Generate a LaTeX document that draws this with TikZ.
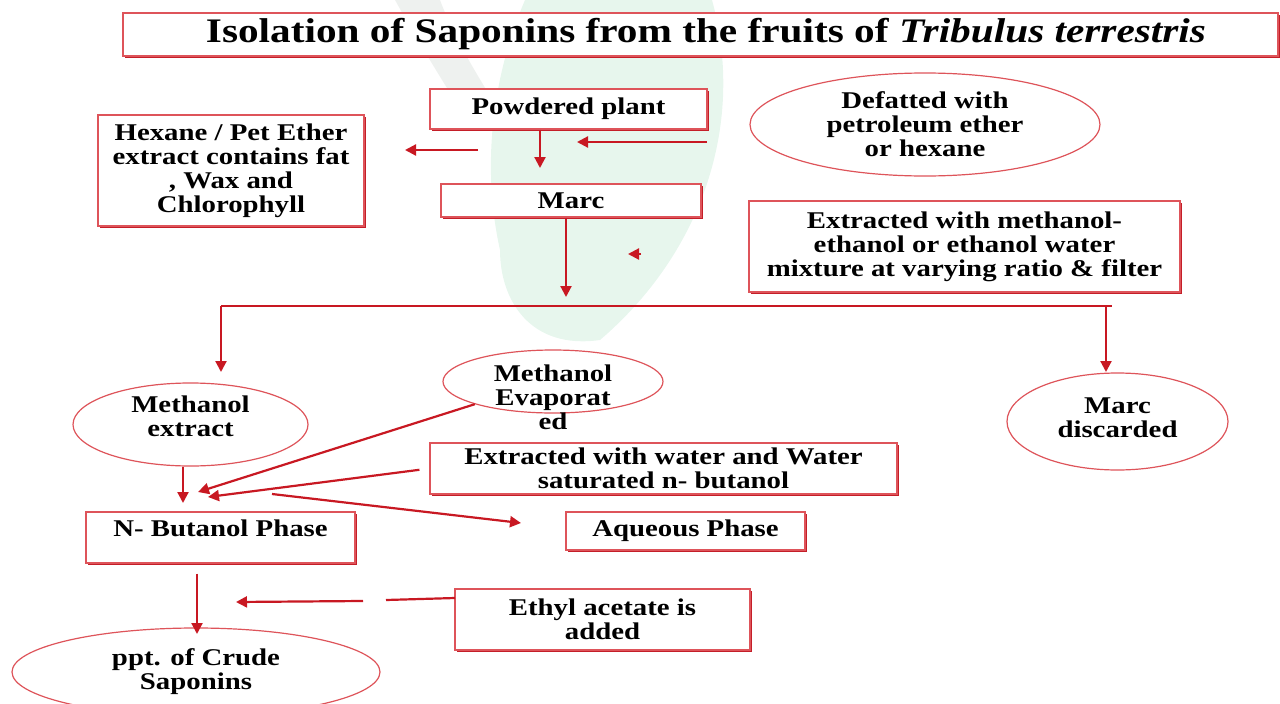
\documentclass[tikz,border=0pt]{standalone}
\usepackage{fontspec}
\setmainfont{Liberation Serif}[FakeStretch=1.2]
\usetikzlibrary{arrows.meta,shapes.geometric,shadows}
\definecolor{flowred}{RGB}{200,24,34}
\definecolor{boxred}{RGB}{222,84,90}
\definecolor{shadered}{RGB}{196,30,40}
\definecolor{leafgreen}{RGB}{231,246,237}
\definecolor{leafgray}{RGB}{238,241,239}
\begin{document}
\begin{tikzpicture}[x=1pt,y=-1pt,
    txt/.style={align=center, inner sep=0pt, font=\fontsize{24}{24}\selectfont\bfseries},
    box/.style={txt, draw=boxred, line width=1.3pt, fill=white,
        drop shadow={shadow xshift=1.6pt, shadow yshift=-1.6pt, fill=shadered, opacity=1}},
    oval/.style={ellipse, draw=boxred, line width=1.2pt, fill=white, inner sep=0pt},
    line/.style={draw=flowred, line width=2.2pt},
    flow/.style={line, -{Triangle[length=11pt,width=11pt]}}
]
            \path[use as bounding box, clip] (0,0) rectangle (1280,704);
            \fill[leafgray] (395,0) .. controls (420,45) and (445,85) .. (470,125) -- (505,120) .. controls (480,80) and (455,40) .. (440,0) -- cycle;
            \fill[leafgreen] (525,0) -- (712,0) .. controls (745,120) and (705,250) .. (600,340)
                .. controls (530,350) and (500,300) .. (500,250) .. controls (480,160) and (495,70) .. (525,0) -- cycle;

            \node[box, font=\fontsize{34.4}{34}\selectfont\bfseries, minimum width=1155, minimum height=43] (title) at (700.5,34.5)
                {\hspace*{11pt}Isolation of Saponins from the fruits of \textit{Tribulus terrestris}};
            \node[box, minimum width=277, minimum height=40] (plant) at (568.5,109) {Powdered plant};
            \node[box, minimum width=266, minimum height=111] (hexane) at (231,170.5)
                {Hexane / Pet Ether\\extract contains fat\\, Wax and\\Chlorophyll};
            \node[box, minimum width=260, minimum height=33] (marc) at (571,200.5) {Marc};
            \node[oval, minimum width=350, minimum height=103] (defat) at (925,124.5) {};
            \node[txt] (defatT) at (defat.center) {Defatted with\\petroleum ether\\or hexane};
            \node[box, minimum width=431, minimum height=91] (extract) at (964.5,246.5)
                {Extracted with methanol-\\ethanol or ethanol water\\mixture at varying ratio \& filter};

            \node[oval, minimum width=235, minimum height=83] (mext) at (190.5,424.5) {};
            \node[txt] (mextT) at ([yshift=8pt]mext.center) {Methanol\\extract};
            \node[oval, minimum width=220, minimum height=63] (mevap) at (553,381.5) {};
            \node[txt] (mevapT) at ([yshift=-16pt]mevap.center) {Methanol\\Evaporat\\ed};
            \node[oval, minimum width=221, minimum height=97] (mdisc) at (1117.5,421.5) {};
            \node[txt] (mdiscT) at ([yshift=4pt]mdisc.center) {Marc\\discarded};
            \node[box, minimum width=467, minimum height=51] (water) at (663.5,468.5)
                {Extracted with water and Water\\saturated n- butanol};
            \node[box, text depth=18pt, minimum width=269, minimum height=51] (nbut) at (220.5,537.5) {N- Butanol Phase};
            \node[box, minimum width=239, minimum height=38] (aq) at (685.5,531) {Aqueous Phase};
            \node[box, minimum width=295, minimum height=61] (ethyl) at (602.5,619.5) {Ethyl acetate is\\added};
            \node[oval, minimum width=368, minimum height=88] (ppt) at (196,672) {};
            \node[txt] (pptT) at (ppt.center) {ppt. of Crude\\Saponins};

            \coordinate (p1) at (540,168);
            \coordinate (d0) at (707,142);
            \coordinate (d1) at (577,142);
            \coordinate (h0) at (478,150);
            \coordinate (h1) at (405,150);
            \coordinate (s0) at (641,254);
            \coordinate (s1) at (628,254);
            \coordinate (m1) at (566,297);
            \coordinate (sl) at (221,306);
            \coordinate (sr) at (1112,306);
            \coordinate (ml) at (221,372);
            \coordinate (mr) at (1106,372);
            \coordinate (b1) at (183,503);
            \coordinate (b2) at (198,492);
            \coordinate (b3) at (208,497);
            \coordinate (q0) at (272,494);
            \coordinate (q1) at (521,523);
            \coordinate (n1) at (197,634);
            \coordinate (e0) at (455,598);
            \coordinate (e1) at (386,600);
            \coordinate (e2) at (363,601);
            \coordinate (e3) at (236,602);

            \draw[flow] (plant.south -| p1) -- (p1);
            \draw[flow] (d0) -- (d1);
            \draw[flow] (h0) -- (h1);
            \draw[flow] (s0) -- (s1);
            \draw[flow] (marc.south -| m1) -- (m1);
            \draw[line] (sl) -- (sr);
            \draw[flow] (sl) -- (ml);
            \draw[flow] (sr -| mr) -- (mr);
            \draw[flow] (mext.south -| b1) -- (b1);
            \draw[flow] (mevap.south west) -- (b2);
            \draw[flow, shorten <=10pt] (water.west) -- (b3);
            \draw[flow] (q0) -- (q1);
            \draw[flow, shorten <=10pt] (nbut.south -| n1) -- (n1);
            \draw[line] (e0) -- (e1);
            \draw[flow] (e2) -- (e3);
\end{tikzpicture}
\end{document}
